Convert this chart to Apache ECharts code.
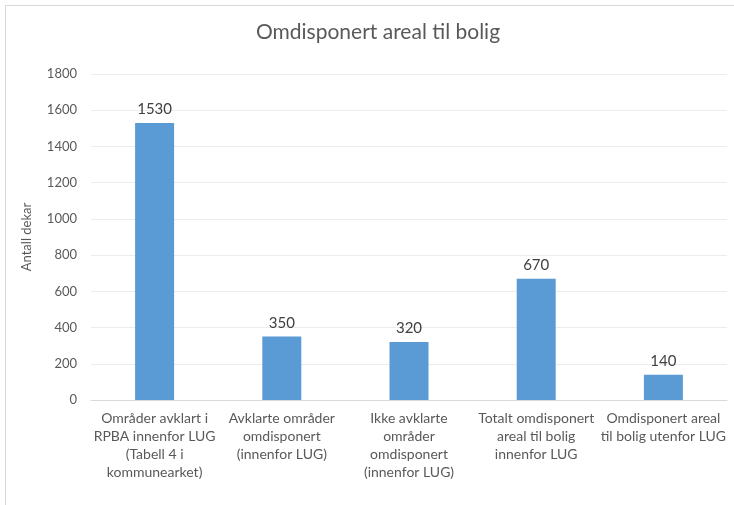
<!DOCTYPE html>
<html>
<head>
<meta charset="utf-8">
<script src="https://cdn.jsdelivr.net/npm/echarts@6/dist/echarts.min.js"></script>
<style>
  html, body { margin: 0; padding: 0; background: #fff; }
  #frame {
    position: absolute; left: 5px; top: 5px; width: 729px; height: 500px;
    border-left: 1px solid #d9d9d9; border-top: 1px solid #d9d9d9;
  }
  #chart { position: absolute; left: 0; top: 0; width: 734px; height: 505px; }
</style>
</head>
<body>
<div id="frame"></div>
<div id="chart"></div>
<script>
const categories = [
  "Områder avklart i\nRPBA innenfor LUG\n(Tabell 4 i\nkommunearket)",
  "Avklarte områder\nomdisponert\n(innenfor LUG)",
  "Ikke avklarte\nområder\nomdisponert\n(innenfor LUG)",
  "Totalt omdisponert\nareal til bolig\ninnenfor LUG",
  "Omdisponert areal\ntil bolig utenfor LUG"
];
const values = [1530, 350, 320, 670, 140];

const chart = echarts.init(document.getElementById("chart"));
const font = "Lato, 'Open Sans', sans-serif";

chart.setOption({
  animation: false,
  title: {
    text: "Omdisponert areal til bolig",
    left: 373,
    top: 17,
    textAlign: "center",
    textStyle: { fontFamily: font, fontSize: 21, fontWeight: "normal", color: "#595959" }
  },
  grid: { left: 91, right: 7, top: 74, bottom: 105 },
  xAxis: {
    type: "category",
    data: categories,
    axisTick: { show: false },
    axisLine: { lineStyle: { color: "#d9d9d9" } },
    axisLabel: {
      interval: 0,
      margin: 9,
      fontFamily: font,
      fontSize: 14,
      lineHeight: 18,
      color: "#595959"
    }
  },
  yAxis: {
    type: "value",
    min: 0,
    max: 1800,
    interval: 200,
    name: "Antall dekar",
    nameLocation: "middle",
    nameGap: 58,
    nameTextStyle: { fontFamily: font, fontSize: 13, color: "#595959" },
    axisLine: { show: false },
    axisTick: { show: false },
    axisLabel: {
      margin: 14, fontFamily: font, fontSize: 13, color: "#595959",
      formatter: v => String(v)
    },
    splitLine: { lineStyle: { color: "#ececec" } }
  },
  series: [{
    type: "bar",
    data: values,
    barWidth: 39,
    itemStyle: { color: "#5b9bd5" },
    label: {
      show: true,
      position: "top",
      distance: 6,
      fontFamily: font,
      fontSize: 15,
      color: "#404040"
    }
  }]
});
</script>
</body>
</html>
